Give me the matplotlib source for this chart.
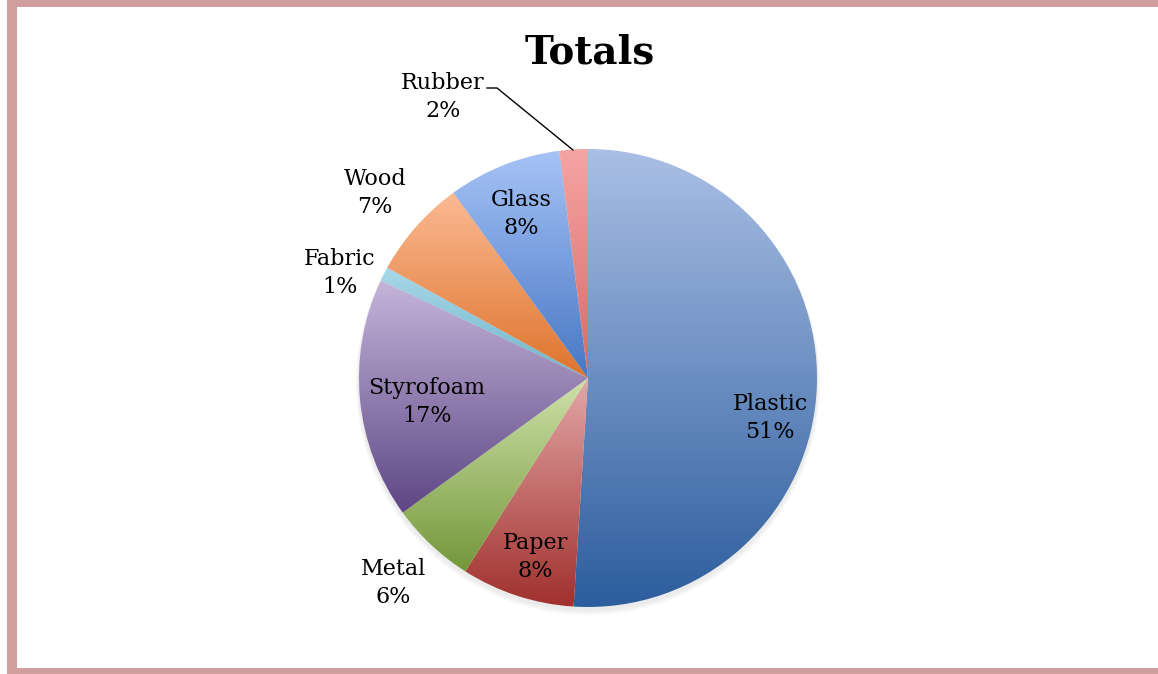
import numpy as np
import matplotlib.pyplot as plt
from matplotlib.patches import Rectangle, Ellipse
from matplotlib.colors import LinearSegmentedColormap

# Datos del gráfico (porcentajes, sentido horario desde arriba)
categorias = ["Plastic", "Paper", "Metal", "Styrofoam", "Fabric", "Wood", "Glass", "Rubber"]
valores = [51, 8, 6, 17, 1, 7, 8, 2]

# colores claro (arriba) -> oscuro (abajo) de cada sector
color_claro = ["#AABFE5", "#E3A8A7", "#CFE2AA", "#C5B5DA", "#A8D8E8", "#FBBA93", "#A6C3F6", "#F6A4A4"]
color_oscuro = ["#2C5D9D", "#A0302D", "#74973A", "#5D4684", "#70B5CA", "#DE732C", "#4777C4", "#D66A6A"]

# posiciones de las etiquetas (pixeles, origen arriba-izquierda)
pos_etiquetas = [(770, 418), (535, 557), (393, 583), (427, 402), (340, 273), (375, 193), (521, 214), (443, 97)]

W, H = 1158, 674
fig = plt.figure(figsize=(W / 100, H / 100), dpi=100)
ax = fig.add_axes([0, 0, 1, 1])
ax.set_xlim(0, W)
ax.set_ylim(0, H)
ax.set_aspect("equal")
ax.axis("off")

centro = (588, H - 378)
radio = 229

# sombra suave
for i in range(3):
    ax.add_patch(Ellipse((centro[0], centro[1] - 3 - i), 2 * radio + 2 + 2 * i, 2 * radio + 2 + 2 * i,
                         facecolor="gray", edgecolor="none", alpha=0.05, zorder=0))

wedges, _ = ax.pie(valores, center=centro, radius=radio, startangle=90, counterclock=False,
                   colors=["none"] * len(valores), wedgeprops=dict(linewidth=0))
ax.set_xlim(0, W)
ax.set_ylim(0, H)

grad = np.linspace(0, 1, 256).reshape(-1, 1)
for w, c1, c2 in zip(wedges, color_claro, color_oscuro):
    verts = w.get_path().vertices
    x0, x1 = verts[:, 0].min(), verts[:, 0].max()
    y0, y1 = verts[:, 1].min(), verts[:, 1].max()
    cmap = LinearSegmentedColormap.from_list("g", [c2, c1])
    im = ax.imshow(grad, cmap=cmap, extent=(x0, x1, y0, y1), origin="lower", aspect="auto", zorder=1)
    im.set_clip_path(w)

for nombre, v, (px, py) in zip(categorias, valores, pos_etiquetas):
    ax.text(px, H - py, f"{nombre}\n{v}%", ha="center", va="center", fontsize=16,
            family="DejaVu Serif", linespacing=1.35, zorder=3)

# línea guía de Rubber
ax.plot([487, 497, 573], [H - 88, H - 88, H - 150], color="black", lw=1, zorder=3)

ax.text(590, H - 53, "Totals", ha="center", va="center", fontsize=28, fontweight="bold",
        family="DejaVu Serif", zorder=3)

# marco
borde = "#D09E9F"
ax.add_patch(Rectangle((7, H - 7), W, 7, facecolor=borde, edgecolor="none", zorder=4))
ax.add_patch(Rectangle((7, 0), 10, H, facecolor=borde, edgecolor="none", zorder=4))
ax.add_patch(Rectangle((7, 0), W, 6, facecolor=borde, edgecolor="none", zorder=4))

fig.savefig("out.png", dpi=100)
